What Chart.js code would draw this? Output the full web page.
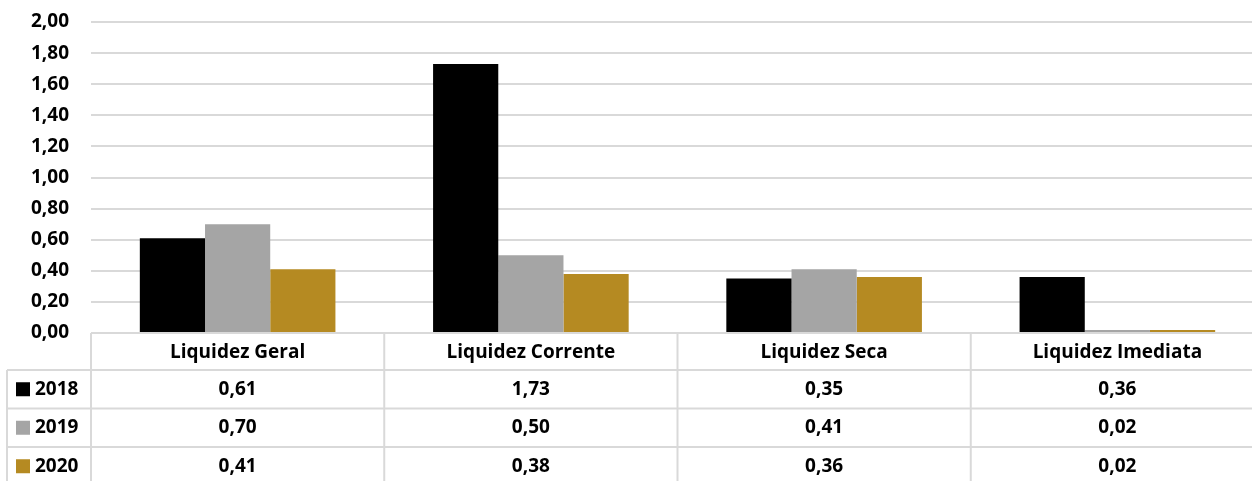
<!DOCTYPE html>
<html>
<head>
<meta charset="utf-8">
<script src="https://cdn.jsdelivr.net/npm/chart.js@4"></script>
<style>
  html, body { margin: 0; padding: 0; background: #fff; overflow: hidden; }
  #wrap { width: 1264px; height: 481px; }
</style>
</head>
<body>
<div id="wrap"><canvas id="myChart"></canvas></div>
<script>
const categories = ['Liquidez Geral', 'Liquidez Corrente', 'Liquidez Seca', 'Liquidez Imediata'];
const years = ['2018', '2019', '2020'];
const v2018 = [0.61, 1.73, 0.35, 0.36];
const v2019 = [0.70, 0.50, 0.41, 0.02];
const v2020 = [0.41, 0.38, 0.36, 0.02];
const yTicks = [0, 0.2, 0.4, 0.6, 0.8, 1.0, 1.2, 1.4, 1.6, 1.8, 2.0];

const colors = ['#000000', '#A5A5A5', '#B58A22'];
const font = '"Open Sans"';
const gridColor = '#D9D9D9';

const fmt = v => v.toFixed(2).replace('.', ',');

const series = [v2018, v2019, v2020];
const datasets = years.map((y, i) => ({
  label: y,
  data: series[i],
  backgroundColor: colors[i],
  borderWidth: 0,
  categoryPercentage: 0.667,
  barPercentage: 1.0,
}));

// draws the excel-style data table under the plot
const dataTable = {
  id: 'dataTable',
  afterDraw(chart) {
    const ctx = chart.ctx;
    const area = chart.chartArea;
    const x = chart.scales.x;
    const colW = (area.right - area.left) / categories.length;
    const headerH = 37;
    const rowH = 38.5;
    const top = area.bottom;
    const legendLeft = 7;
    ctx.save();
    ctx.strokeStyle = gridColor;
    ctx.lineWidth = 2;

    // vertical lines
    for (let i = 0; i <= categories.length; i++) {
      const lx = area.left + i * colW;
      ctx.beginPath();
      ctx.moveTo(lx, top);
      ctx.lineTo(lx, chart.height);
      ctx.stroke();
    }
    ctx.beginPath();
    ctx.moveTo(legendLeft, top + headerH);
    ctx.lineTo(legendLeft, chart.height);
    ctx.stroke();

    // horizontal lines
    for (let r = 0; r < years.length; r++) {
      const ly = top + headerH + r * rowH;
      ctx.beginPath();
      ctx.moveTo(legendLeft, ly);
      ctx.lineTo(area.right, ly);
      ctx.stroke();
    }

    ctx.fillStyle = '#000';
    ctx.font = 'bold 19px ' + font;
    ctx.textAlign = 'center';
    ctx.textBaseline = 'middle';
    categories.forEach((c, i) => {
      ctx.fillText(c, x.getPixelForValue(i), top + headerH / 2 + 1);
    });

    series.forEach((s, r) => {
      const cy = top + headerH + r * rowH + rowH / 2;
      s.forEach((v, i) => {
        ctx.fillStyle = '#000';
        ctx.textAlign = 'center';
        ctx.fillText(fmt(v), x.getPixelForValue(i), cy);
      });
      ctx.fillStyle = colors[r];
      ctx.fillRect(16, cy - 7, 14, 14);
      ctx.fillStyle = '#000';
      ctx.textAlign = 'left';
      ctx.fillText(years[r], 35, cy);
    });
    ctx.restore();
  }
};

new Chart(document.getElementById('myChart'), {
  type: 'bar',
  data: { labels: categories, datasets: datasets },
  plugins: [dataTable],
  options: {
    responsive: true,
    maintainAspectRatio: false,
    animation: false,
    layout: { padding: { top: 22, bottom: 140, left: 0, right: 0 } },
    plugins: {
      legend: { display: false },
      tooltip: { enabled: false },
    },
    scales: {
      x: {
        ticks: { display: false },
        grid: { display: false },
        border: { display: false },
      },
      y: {
        min: 0,
        max: 2,
        afterBuildTicks: axis => { axis.ticks = yTicks.map(v => ({ value: v })); },
        afterFit: axis => { axis.width = 91; axis.paddingTop = 0; },
        ticks: {
          color: '#000',
          font: { family: font, size: 19, weight: 'bold' },
          padding: 22,
          callback: v => fmt(v),
        },
        grid: { color: gridColor, lineWidth: 2, drawTicks: false },
        border: { display: false },
      },
    },
  },
});
</script>
</body>
</html>
